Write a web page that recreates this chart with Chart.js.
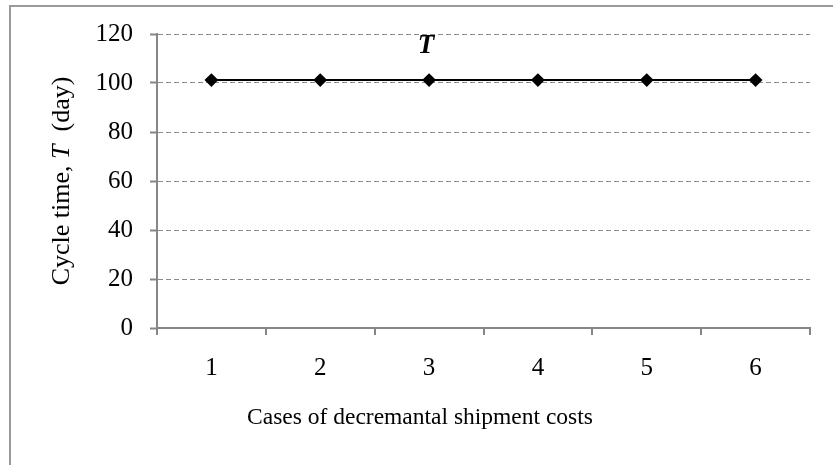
<!DOCTYPE html>
<html>
<head>
<meta charset="utf-8">
<script src="https://cdn.jsdelivr.net/npm/chart.js@4.4.1/dist/chart.umd.min.js"></script>
<style>
  html, body { margin: 0; padding: 0; background: #fff; }
  #wrap { position: relative; width: 833px; height: 465px; }
  #frame { position: absolute; left: 9px; top: 5px; right: 0; bottom: 0;
           border-left: 2px solid #9a9a9a; border-top: 2px solid #9a9a9a; }
  canvas { position: absolute; left: 0; top: 0; }
</style>
</head>
<body>
<div id="wrap">
  <div id="frame"></div>
  <canvas id="myChart" width="833" height="465"></canvas>
</div>
<script>
const cases = ['1', '2', '3', '4', '5', '6'];
const cycleTime = [101.2, 101.2, 101.2, 101.2, 101.2, 101.2];
const yTicks = [0, 20, 40, 60, 80, 100, 120];

const serif = '"Liberation Serif", "Times New Roman", serif';
const tickSize = 25;

// axis titles drawn by hand (italic T on y, x title sits left of centre)
const axisTitlePlugin = {
	id: 'axisTitles',
	afterDraw(chart) {
		const c = chart.ctx;
		const area = chart.chartArea;
		const parts = [
			{ text: 'Cycle time, ', font: `26px ${serif}` },
			{ text: 'T', font: `italic 26px ${serif}` },
			{ text: '  (day)', font: `26px ${serif}` }
		];
		c.save();
		let total = 0;
		parts.forEach(p => { c.font = p.font; p.w = c.measureText(p.text).width; total += p.w; });
		c.translate(62, (area.top + area.bottom) / 2);
		c.rotate(-Math.PI / 2);
		c.fillStyle = '#000';
		c.textBaseline = 'middle';
		c.textAlign = 'left';
		let x = -total / 2;
		parts.forEach(p => { c.font = p.font; c.fillText(p.text, x, 0); x += p.w; });
		c.restore();

		c.save();
		c.font = `23.5px ${serif}`;
		c.fillStyle = '#000';
		c.textAlign = 'center';
		c.textBaseline = 'middle';
		c.fillText('Cases of decremantal shipment costs', 420, 418);
		c.restore();
	}
};

// series label above the third point
const seriesLabelPlugin = {
	id: 'seriesLabel',
	afterDatasetsDraw(chart) {
		const pt = chart.getDatasetMeta(0).data[2];
		const c = chart.ctx;
		c.save();
		c.font = `italic bold 27px ${serif}`;
		c.fillStyle = '#000';
		c.textAlign = 'center';
		c.textBaseline = 'middle';
		c.fillText('T', pt.x - 3, pt.y - 34);
		c.restore();
	}
};

const ctx = document.getElementById('myChart');
const myChart = new Chart(ctx, {
	type: 'line',
	data: {
		labels: cases,
		datasets: [{
			label: 'T',
			data: cycleTime,
			borderColor: '#000',
			backgroundColor: '#000',
			borderWidth: 2,
			pointStyle: 'rectRot',
			pointRadius: 5.5,
			pointBackgroundColor: '#000',
			pointBorderColor: '#000',
			tension: 0
		}]
	},
	options: {
		responsive: false,
		animation: false,
		devicePixelRatio: 1,
		layout: { padding: { left: 0, right: 23, top: 34, bottom: 0 } },
		plugins: {
			legend: { display: false },
			tooltip: { enabled: false }
		},
		scales: {
			x: {
				offset: true,
				grid: {
					offset: true,
					drawOnChartArea: false,
					drawTicks: true,
					tickLength: 7,
					color: '#868686',
					lineWidth: 2
				},
				border: { color: '#868686', width: 2 },
				ticks: {
					color: '#000',
					font: { family: serif, size: tickSize },
					padding: 18,
					maxRotation: 0
				},
				afterFit(scale) { scale.height = 137; }
			},
			y: {
				min: 0,
				max: 120,
				afterBuildTicks(scale) { scale.ticks = yTicks.map(v => ({ value: v })); },
				grid: {
					color: '#8c8c8c',
					lineWidth: 1,
					tickLength: 7,
					tickColor: '#868686',
					tickWidth: 2,
					tickBorderDash: [],
					drawTicks: true
				},
				border: { color: '#868686', width: 2, dash: [5, 3] },
				ticks: {
					color: '#000',
					font: { family: serif, size: tickSize },
					padding: 17
				},
				afterFit(scale) { scale.width = 157; }
			}
		}
	},
	plugins: [axisTitlePlugin, seriesLabelPlugin]
});
</script>
</body>
</html>
